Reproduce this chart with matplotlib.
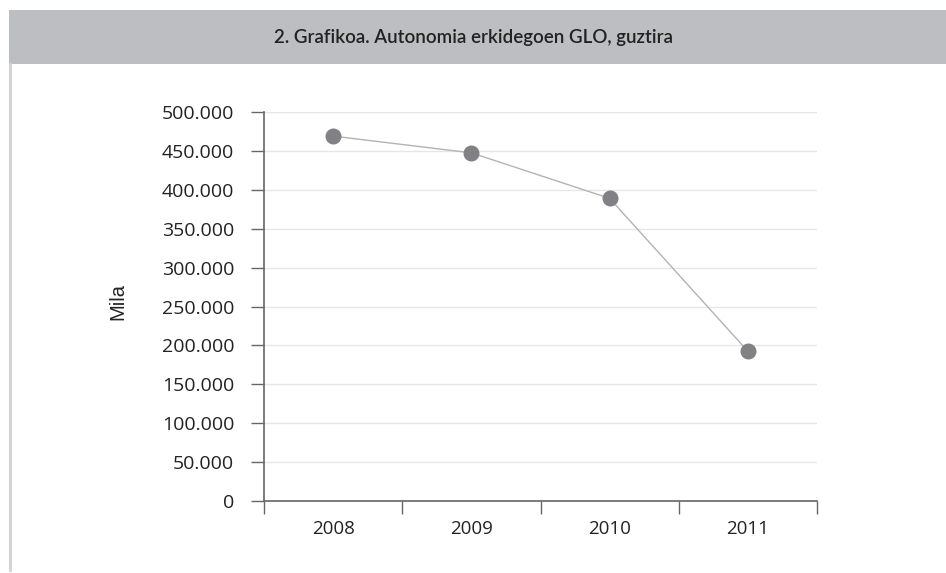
import matplotlib.pyplot as plt
from matplotlib.patches import Rectangle
from matplotlib.lines import Line2D
from matplotlib.ticker import FuncFormatter, FixedLocator

years = ["2008", "2009", "2010", "2011"]
glo = [469000, 447500, 389000, 192500]
y_ticks = list(range(0, 500001, 50000))
title = "2. Grafikoa. Autonomia erkidegoen GLO, guztira"

W, H = 946, 573
fig = plt.figure(figsize=(W / 100, H / 100), dpi=100)
fig.set_facecolor("white")

# title band + left border line
fig.add_artist(Rectangle((9 / W, 1 - 64 / H), 1 - 9 / W, 54 / H,
                         transform=fig.transFigure, facecolor="#bdbec1",
                         edgecolor="none"))
fig.add_artist(Line2D([10 / W, 10 / W], [0.005, 1 - 64 / H],
                      transform=fig.transFigure, color="#d0d0d0", lw=2))
fig.text(0.5, 1 - 37 / H, title, ha="center", va="center",
         fontsize=13.5, fontweight="semibold", family="Lato",
         color="#222222")

ax = fig.add_axes([264 / W, 1 - 501 / H, (817 - 264) / W, (501 - 112) / H])
x = [i + 0.5 for i in range(len(years))]
ax.plot(x, glo, color="#b3b3b3", lw=1, zorder=3)
ax.plot(x, glo, "o", ms=10.5, color="#808085", zorder=4)

ax.set_xlim(0, len(years))
ax.set_ylim(0, 500000)
ax.set_yticks(y_ticks)
ax.yaxis.set_major_formatter(FuncFormatter(lambda v, p: f"{int(v):,}".replace(",", ".")))
ax.xaxis.set_major_locator(FixedLocator(range(len(years) + 1)))
ax.xaxis.set_minor_locator(FixedLocator(x))
ax.set_xticklabels([])
ax.set_xticklabels(years, minor=True)
ax.tick_params(axis="x", which="major", direction="out", length=9.5,
               width=1, color="#666666")
ax.tick_params(axis="x", which="minor", length=0, pad=14,
               labelsize=13.5, labelcolor="#222222")
ax.tick_params(axis="y", direction="out", length=9.5, width=1,
               color="#666666", labelsize=14, labelcolor="#222222", pad=12)
for lab in ax.get_yticklabels() + ax.get_xticklabels(minor=True):
    lab.set_family("Open Sans")

ax.grid(axis="y", color="#e6e6e6", lw=1)
ax.set_axisbelow(True)
for s in ["top", "right"]:
    ax.spines[s].set_visible(False)
for s in ["left", "bottom"]:
    ax.spines[s].set_color("#666666")
    ax.spines[s].set_linewidth(1.2)

fig.text(118 / W, 1 - 301 / H, "Mila", rotation=90, ha="center",
         va="center", fontsize=14.5, family="Liberation Sans", color="#222222")

fig.savefig("out.png", dpi=100, facecolor="white")
